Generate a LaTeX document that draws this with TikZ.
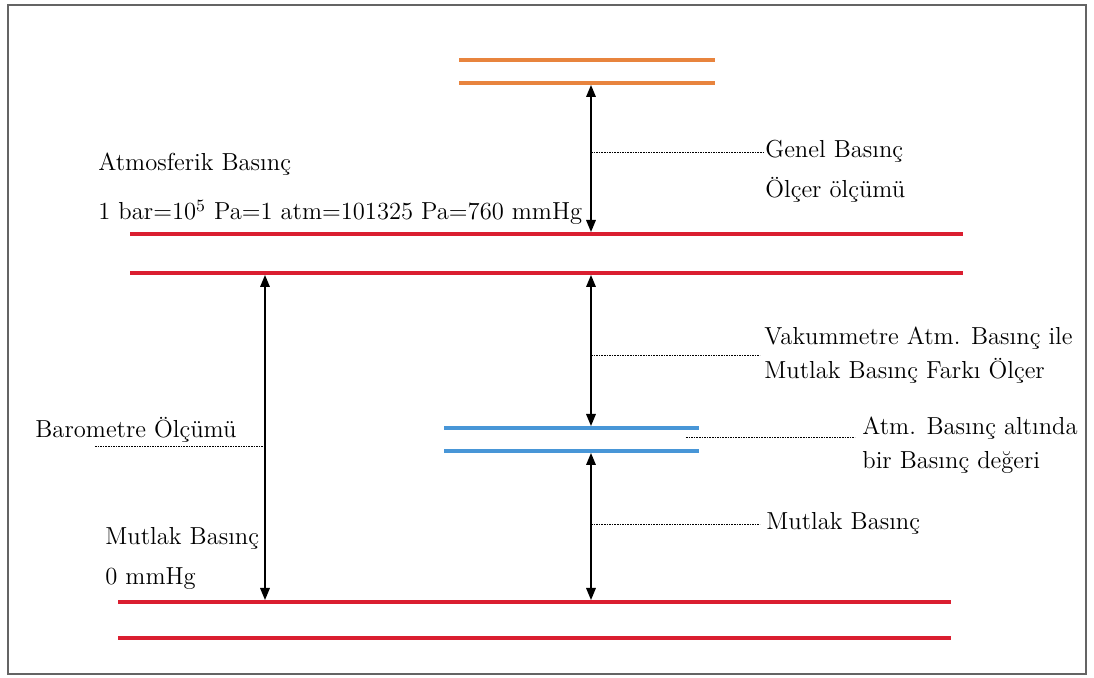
\documentclass[tikz,border=0pt]{standalone}
\usepackage{fontspec}
\usetikzlibrary{arrows.meta}
\definecolor{lorange}{RGB}{232,132,62}
\definecolor{lred}{RGB}{218,30,48}
\definecolor{lblue}{RGB}{72,150,215}
\definecolor{frame}{RGB}{100,100,100}
\begin{document}
\begin{tikzpicture}[x=0.5pt,y=-0.5pt,
  level/.style={line width=2pt},
  meas/.style={line width=0.7pt,{Triangle[width=4.8pt,length=6pt]}-{Triangle[width=4.8pt,length=6pt]}},
  lead/.style={line width=0.45pt,dash pattern=on 0.8pt off 0.5pt},
  lbl/.style={anchor=base west,inner sep=0pt,font=\fontsize{12.3}{15}\selectfont}]
\useasboundingbox (0,0) rectangle (1094,678);
\draw[frame,line width=1pt] (8,5) rectangle (1086,674);

% level lines
\draw[level,lorange] (459,60) -- (715,60);
\draw[level,lorange] (459,83) -- (715,83);
\draw[level,lred] (130,234) -- (963,234);
\draw[level,lred] (130,273) -- (963,273);
\draw[level,lblue] (444,428) -- (699,428);
\draw[level,lblue] (444,451) -- (699,451);
\draw[level,lred] (118,602) -- (951,602);
\draw[level,lred] (118,638) -- (951,638);

% arrow end points
\coordinate (gT) at (591,85);
\coordinate (gB) at (591,232);
\coordinate (vT) at (591,275);
\coordinate (vB) at (591,426);
\coordinate (mT) at (591,453);
\coordinate (mB) at (591,600);
\coordinate (bT) at (265,275);
\coordinate (bB) at (265,600);

\draw[meas] (gT) -- (gB);
\draw[meas] (vT) -- (vB);
\draw[meas] (mT) -- (mB);
\draw[meas] (bT) -- (bB);

% labels
\node[lbl] (atm1) at (98,171) {Atmosferik Basınç};
\node[lbl] (atm2) at (98,220) {1 bar=10\textsuperscript{5} Pa=1 atm=101325 Pa=760 mmHg};
\node[lbl] (gen1) at (765,158) {Genel Basınç};
\node[lbl] (gen2) at (765,198) {Ölçer ölçümü};
\node[lbl] (vak1) at (764,345) {Vakummetre Atm. Basınç ile};
\node[lbl] (vak2) at (764,379) {Mutlak Basınç Farkı Ölçer};
\node[lbl] (alt1) at (862,435) {Atm. Basınç altında};
\node[lbl] (alt2) at (862,469) {bir Basınç değeri};
\node[lbl] (bar1) at (35,438) {Barometre Ölçümü};
\node[lbl] (mut1) at (105,545) {Mutlak Basınç};
\node[lbl] (mut2) at (105,585) {0 mmHg};
\node[lbl] (mut3) at (766,530) {Mutlak Basınç};

% leader lines
\coordinate (gL) at (591,152);
\coordinate (gR) at (763,152);
\coordinate (vL) at (591,355);
\coordinate (vR) at (760,355);
\coordinate (aL) at (686,437);
\coordinate (aR) at (855,437);
\coordinate (bL) at (95,446);
\coordinate (bR) at (265,446);
\coordinate (mL) at (591,524);
\coordinate (mR) at (760,524);
\draw[lead] (gL) -- (gR);
\draw[lead] (vL) -- (vR);
\draw[lead] (aL) -- (aR);
\draw[lead] (bL) -- (bR);
\draw[lead] (mL) -- (mR);
\end{tikzpicture}
\end{document}
